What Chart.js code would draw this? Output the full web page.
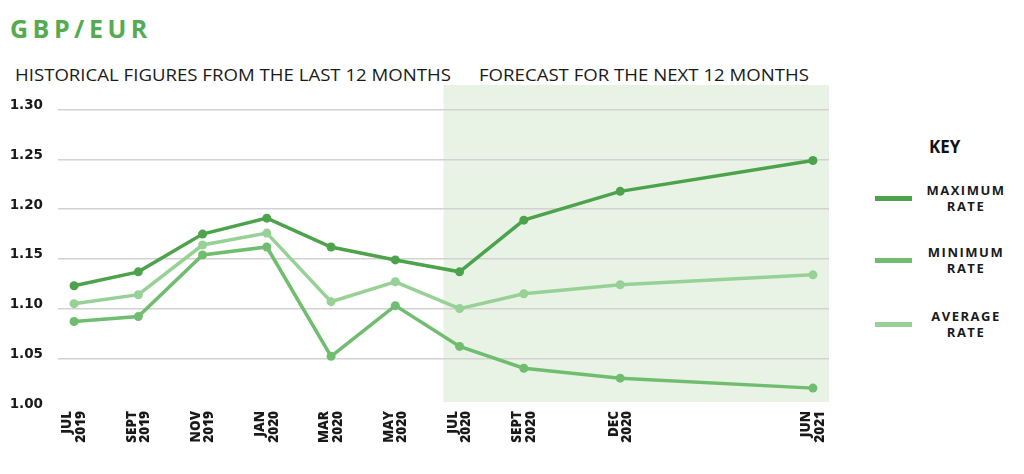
<!DOCTYPE html>
<html>
<head>
<meta charset="utf-8">
<script src="https://cdn.jsdelivr.net/npm/chart.js@4/dist/chart.umd.min.js"></script>
<style>
  html, body { margin: 0; padding: 0; background: #fff; }
  body { width: 1024px; height: 474px; position: relative; overflow: hidden; font-family: "Open Sans", sans-serif; }
  .title { position: absolute; left: 10px; top: 10px; font-size: 25px; font-weight: 700; letter-spacing: 4.5px; color: #55ab52; line-height: 36px; }
  .sub { position: absolute; top: 64px; font-size: 17px; font-weight: 500; color: #1a1a1a; line-height: 22px; white-space: nowrap; transform-origin: left center; }
  .sub.hist { left: 15px; }
  .sub.fc { left: 479px; }
  #wrap { position: absolute; left: 0; top: 80px; width: 840px; height: 394px; }
  .key { position: absolute; left: 870px; top: 0; width: 154px; }
  .key h4 { position: absolute; left: 59px; top: 136px; margin: 0; font-size: 17px; font-weight: 700; color: #111; line-height: 22px; }
  .key .item { position: absolute; left: 0; width: 154px; height: 34px; }
  .key .sw { position: absolute; left: 5px; top: 14px; width: 37px; height: 5px; }
  .key .lbl { position: absolute; left: 40px; width: 112px; text-align: center; font-size: 13px; font-weight: 700; letter-spacing: 1.5px; line-height: 16px; color: #1a1a1a; }
</style>
</head>
<body>
<div class="title">GBP/EUR</div>
<div class="sub hist" data-w="436">HISTORICAL FIGURES FROM THE LAST 12 MONTHS</div>
<div class="sub fc" data-w="330">FORECAST FOR THE NEXT 12 MONTHS</div>
<div id="wrap"><canvas id="chart" width="840" height="394"></canvas></div>
<div class="key" id="key"><h4>KEY</h4></div>
<script>
// months counted from JUL 2019
const monthIndex = [0, 2, 4, 6, 8, 10, 12, 14, 17, 23];
const xLabels = [
  ['JUL', '2019'], ['SEPT', '2019'], ['NOV', '2019'], ['JAN', '2020'], ['MAR', '2020'],
  ['MAY', '2020'], ['JUL', '2020'], ['SEPT', '2020'], ['DEC', '2020'], ['JUN', '2021']
];
const maxRate = [1.123, 1.137, 1.175, 1.191, 1.162, 1.149, 1.137, 1.189, 1.218, 1.249];
const minRate = [1.087, 1.092, 1.154, 1.162, 1.052, 1.103, 1.062, 1.040, 1.030, 1.020];
const avgRate = [1.105, 1.114, 1.164, 1.176, 1.107, 1.127, 1.100, 1.115, 1.124, 1.134];
const yTicks = [1.00, 1.05, 1.10, 1.15, 1.20, 1.25, 1.30];
const forecastStart = 11.5, forecastEnd = 23.5;

const colors = { max: '#4ca34c', min: '#70bd6f', avg: '#98d195', band: '#e8f3e6', grid: '#d2d2d2' };

// fit the two subtitle lines to their widths
document.querySelectorAll('.sub').forEach(el => {
  const w = Number(el.dataset.w);
  el.style.transform = `scaleX(${w / el.getBoundingClientRect().width})`;
});

const key = document.getElementById('key');
[['MAXIMUM', colors.max, 182], ['MINIMUM', colors.min, 244], ['AVERAGE', colors.avg, 308]].forEach(([name, c, top]) => {
  const item = document.createElement('div');
  item.className = 'item';
  item.style.top = top + 'px';
  item.innerHTML = `<div class="sw" style="background:${c}"></div><div class="lbl">${name}<br>RATE</div>`;
  key.appendChild(item);
});

const pts = (vals) => vals.map((v, i) => ({ x: monthIndex[i], y: v }));
const ds = (label, vals, c) => ({
  label, data: pts(vals), borderColor: c, backgroundColor: c,
  borderWidth: 3.5, pointRadius: 4.5, pointBorderWidth: 0, pointBackgroundColor: c, tension: 0
});
const noPad = (s) => { s.paddingTop = 0; s.paddingBottom = 0; s.paddingLeft = 0; s.paddingRight = 0; };

const forecastBand = {
  id: 'forecastBand',
  beforeDraw(chart) {
    const { ctx, scales: { x, y } } = chart;
    const l = x.getPixelForValue(forecastStart), r = x.getPixelForValue(forecastEnd);
    const t = y.getPixelForValue(1.325), b = y.getPixelForValue(1.006);
    ctx.save();
    ctx.fillStyle = colors.band;
    ctx.fillRect(l, t, r - l, b - t);
    ctx.restore();
  }
};

new Chart(document.getElementById('chart'), {
  type: 'line',
  data: {
    datasets: [
      ds('AVERAGE RATE', avgRate, colors.avg),
      ds('MINIMUM RATE', minRate, colors.min),
      ds('MAXIMUM RATE', maxRate, colors.max)
    ]
  },
  options: {
    responsive: false,
    animation: false,
    layout: { padding: { top: 5, right: 11, left: 0, bottom: 0 } },
    plugins: { legend: { display: false }, tooltip: { enabled: false } },
    scales: {
      x: {
        type: 'linear', min: -0.5, max: 23.5,
        afterBuildTicks: (s) => { s.ticks = monthIndex.map(v => ({ value: v })); },
        afterFit: (s) => { s.height = 66; noPad(s); },
        grid: { display: false, drawTicks: false },
        border: { display: false },
        ticks: {
          autoSkip: false, minRotation: 90, maxRotation: 90, padding: 3, labelOffset: -6.5,
          color: '#1a1a1a', font: { family: 'Open Sans', weight: 800, size: 13.5, lineHeight: 1.0 },
          callback: (v, i) => xLabels[i]
        }
      },
      y: {
        min: 1.0, max: 1.325,
        afterBuildTicks: (s) => { s.ticks = yTicks.map(v => ({ value: v })); },
        afterFit: (s) => { s.width = 58; noPad(s); },
        grid: {
          drawTicks: false, lineWidth: 1.5,
          color: (c) => (c.tick && c.tick.value === 1.0) ? 'rgba(0,0,0,0)' : colors.grid
        },
        border: { display: false },
        ticks: {
          padding: 15, labelOffset: -4, color: '#1a1a1a',
          font: { family: 'DejaVu Sans', weight: 700, size: 13.5 },
          callback: (v) => Number(v).toFixed(2)
        }
      }
    }
  },
  plugins: [forecastBand]
});
</script>
</body>
</html>
